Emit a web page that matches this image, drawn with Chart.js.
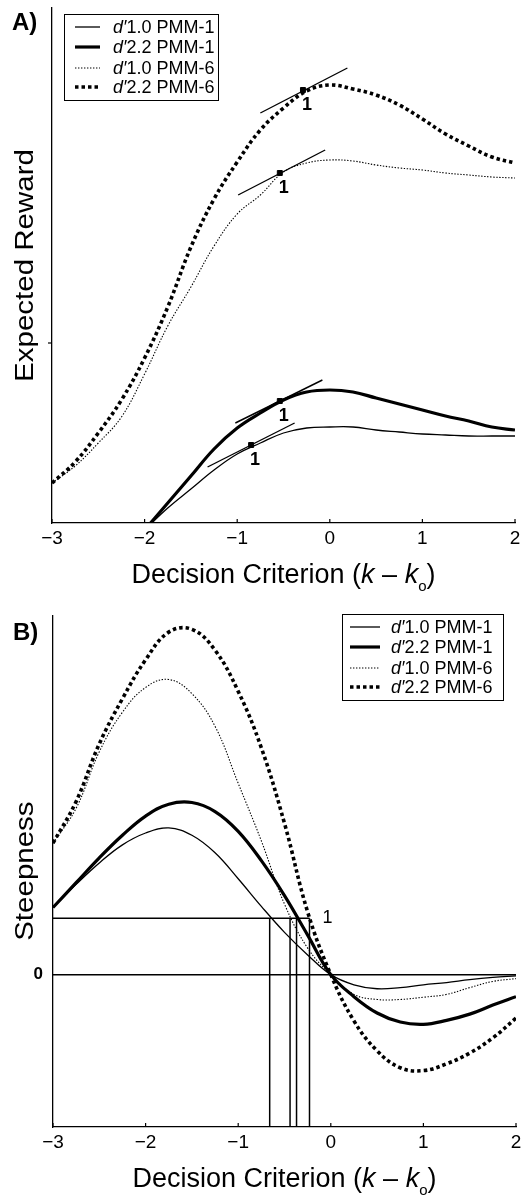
<!DOCTYPE html>
<html>
<head>
<meta charset="utf-8">
<script src="https://cdn.jsdelivr.net/npm/chart.js@4.4.1/dist/chart.umd.min.js"></script>
<style>
  html, body { margin: 0; padding: 0; background: #fff; }
  #wrapA { position: absolute; left: 0; top: 0; width: 529px; height: 595px; }
  #wrapB { position: absolute; left: 0; top: 595px; width: 529px; height: 601px; }
</style>
</head>
<body>
<div id="wrapA"><canvas id="chartA" width="529" height="595"></canvas></div>
<div id="wrapB"><canvas id="chartB" width="529" height="601"></canvas></div>
<script>
// ── shared x grid (decision criterion k - ko) ──
const criterion = [-3, -2.75, -2.5, -2.25, -2, -1.75, -1.5, -1.25, -1, -0.75, -0.5,
                   -0.25, 0, 0.25, 0.5, 0.75, 1, 1.25, 1.5, 1.75, 2];
const criterionTicks = [-3, -2, -1, 0, 1, 2];
const legendLabels = ['1.0 PMM-1', '2.2 PMM-1', '1.0 PMM-6', '2.2 PMM-6'];

// ── Panel A: expected reward (arbitrary units) ──
const rewardD10P1 = [null, null, null, null, -0.07, 0.15, 0.34, 0.53, 0.69, 0.80, 0.90,
                     0.95, 0.96, 0.96, 0.93, 0.91, 0.89, 0.88, 0.87, 0.87, 0.87];
const rewardD22P1 = [null, null, null, null, -0.07, 0.20, 0.47, 0.74, 0.95, 1.10, 1.23,
                     1.31, 1.33, 1.31, 1.25, 1.19, 1.13, 1.07, 1.02, 0.96, 0.93];
const rewardD10P6 = [0.40, 0.57, 0.80, 1.06, 1.49, 1.97, 2.36, 2.77, 3.09, 3.28, 3.51,
                     3.60, 3.63, 3.62, 3.58, 3.55, 3.53, 3.50, 3.48, 3.46, 3.45];
const rewardD22P6 = [0.40, 0.61, 0.90, 1.23, 1.65, 2.16, 2.76, 3.24, 3.61, 3.93, 4.15,
                     4.32, 4.38, 4.34, 4.28, 4.18, 4.04, 3.89, 3.77, 3.66, 3.60];
const rewardRange = [0, 5.15];
const rewardTicks = [1.8];

// slope-1 points and their tangents (same series order as legend)
const optimumX  = [-0.85, -0.54, -0.54, -0.29];
const optimumY  = [0.78, 1.22, 3.50, 4.33];
const tangentX0 = [-1.32, -1.02, -0.99, -0.75];
const tangentY0 = [0.56, 1.00, 3.28, 4.10];
const tangentX1 = [-0.38, -0.08, -0.05, 0.19];
const tangentY1 = [1.00, 1.43, 3.73, 4.55];

// ── Panel B: steepness ──
const steepD10P1 = [1.19, 1.60, 1.98, 2.30, 2.51, 2.60, 2.47, 2.16, 1.70, 1.21, 0.75,
                    0.35, 0, -0.18, -0.25, -0.23, -0.18, -0.14, -0.09, -0.05, -0.02];
const steepD22P1 = [1.19, 1.63, 2.07, 2.47, 2.81, 3.02, 3.05, 2.89, 2.54, 2.02, 1.40,
                    0.70, 0, -0.39, -0.68, -0.84, -0.88, -0.81, -0.70, -0.54, -0.39];
const steepD10P6 = [2.33, 2.95, 3.95, 4.65, 5.09, 5.23, 4.98, 4.40, 3.39, 2.37, 1.25,
                    0.47, 0, -0.35, -0.44, -0.44, -0.40, -0.35, -0.23, -0.12, -0.07];
const steepD22P6 = [2.33, 3.07, 4.09, 4.89, 5.58, 6.07, 6.12, 5.75, 5.02, 4.02, 2.68,
                    1.11, 0, -0.82, -1.35, -1.65, -1.70, -1.58, -1.39, -1.12, -0.77];
const steepRange = [-2.70, 6.37];
const steepLevel = 1;
const crossingX = [-0.66, -0.44, -0.37, -0.23];

// ── styles ──
const FONT = '"Liberation Sans", Arial, Helvetica, sans-serif';
const lineStyles = [
  { width: 1.3, dash: [] },
  { width: 3.2, dash: [] },
  { width: 1.1, dash: [1.4, 1.6] },
  { width: 3.6, dash: [3.5, 3] },
];

const fmtTick = v => (v < 0 ? '\u2212' + Math.abs(v) : String(v));
const pts = (ys) => criterion.map((x, i) => ({ x, y: ys[i] }));

function curve(ys, i) {
  return {
    data: pts(ys), borderColor: '#000', borderWidth: lineStyles[i].width,
    borderDash: lineStyles[i].dash, pointRadius: 0, tension: 0.4,
    spanGaps: false,
  };
}
function segment(x0, y0, x1, y1, w) {
  return {
    data: [{ x: x0, y: y0 }, { x: x1, y: y1 }], borderColor: '#000', borderWidth: w || 1.4,
    pointRadius: 0, tension: 0,
  };
}

function drawInnerTicks(chart) {
  const { ctx, chartArea, scales: { x } } = chart;
  ctx.save();
  ctx.strokeStyle = '#000'; ctx.lineWidth = 1.2;
  criterionTicks.forEach(v => {
    const px = x.getPixelForValue(v);
    ctx.beginPath(); ctx.moveTo(px, chartArea.bottom); ctx.lineTo(px, chartArea.bottom - 4); ctx.stroke();
  });
  ctx.restore();
}

function drawYTitle(chart, text) {
  const { ctx, chartArea } = chart;
  ctx.save();
  ctx.translate(33, (chartArea.top + chartArea.bottom) / 2);
  ctx.rotate(-Math.PI / 2);
  ctx.scale(1.18, 1);
  ctx.font = `25px ${FONT}`; ctx.textAlign = 'center'; ctx.textBaseline = 'alphabetic';
  ctx.fillStyle = '#000';
  ctx.fillText(text, 0, 0);
  ctx.restore();
}

function drawXTitle(chart, baseline) {
  const { ctx, chartArea } = chart;
  const parts = [
    { t: 'Decision Criterion (', f: `27px ${FONT}`, dy: 0 },
    { t: 'k', f: `italic 27px ${FONT}`, dy: 0 },
    { t: ' \u2013 ', f: `27px ${FONT}`, dy: 0 },
    { t: 'k', f: `italic 27px ${FONT}`, dy: 0 },
    { t: 'o', f: `15px ${FONT}`, dy: 8 },
    { t: ')', f: `27px ${FONT}`, dy: 0 },
  ];
  ctx.save();
  ctx.fillStyle = '#000'; ctx.textBaseline = 'alphabetic'; ctx.textAlign = 'left';
  let total = 0;
  parts.forEach(p => { ctx.font = p.f; p.w = ctx.measureText(p.t).width; total += p.w; });
  let x = (chartArea.left + chartArea.right) / 2 - total / 2;
  parts.forEach(p => { ctx.font = p.f; ctx.fillText(p.t, x, baseline + p.dy); x += p.w; });
  ctx.restore();
}

function drawPanelLabel(ctx, text, x, y) {
  ctx.save();
  ctx.font = `bold 24px ${FONT}`; ctx.fillStyle = '#000'; ctx.textBaseline = 'alphabetic';
  ctx.fillText(text, x, y);
  ctx.restore();
}

function drawLegend(ctx, box, rowsY, sx0, sx1, tx) {
  ctx.save();
  ctx.fillStyle = '#fff';
  ctx.fillRect(box.x, box.y, box.w, box.h);
  ctx.strokeStyle = '#000'; ctx.lineWidth = 1;
  ctx.strokeRect(box.x + 0.5, box.y + 0.5, box.w, box.h);
  legendLabels.forEach((lab, i) => {
    const y = rowsY[i];
    ctx.lineWidth = lineStyles[i].width; ctx.setLineDash(lineStyles[i].dash);
    ctx.beginPath(); ctx.moveTo(sx0, y); ctx.lineTo(sx1, y); ctx.stroke();
    ctx.setLineDash([]);
    ctx.fillStyle = '#000'; ctx.textBaseline = 'alphabetic';
    ctx.font = `italic 18px ${FONT}`;
    ctx.fillText('d\u2032', tx, y + 6);
    const w = ctx.measureText('d\u2032').width;
    ctx.font = `18px ${FONT}`;
    ctx.fillText(lab, tx + w, y + 6);
  });
  ctx.restore();
}

function axesConfig(range, yWidth, xHeight) {
  return {
    x: {
      type: 'linear', min: -3, max: 2,
      afterBuildTicks: s => { s.ticks = criterionTicks.map(v => ({ value: v })); },
      ticks: { font: { family: FONT, size: 19 }, color: '#000', padding: 4,
               maxRotation: 0, autoSkip: false, callback: v => fmtTick(v) },
      grid: { display: false, drawTicks: false },
      border: { display: true, color: '#000', width: 1.3 },
      afterFit: s => { s.height = xHeight; },
    },
    y: {
      type: 'linear', min: range[0], max: range[1],
      grid: { display: false, drawTicks: false },
      border: { display: true, color: '#000', width: 1.3 },
      afterFit: s => { s.width = yWidth; },
    },
  };
}

// ── Panel A ──
const datasetsA = [
  curve(rewardD10P1, 0), curve(rewardD22P1, 1), curve(rewardD10P6, 2), curve(rewardD22P6, 3),
  ...optimumX.map((_, i) => segment(tangentX0[i], tangentY0[i], tangentX1[i], tangentY1[i], 1.4)),
  {
    data: optimumX.map((x, i) => ({ x, y: optimumY[i] })), showLine: false,
    pointStyle: 'rect', pointRadius: 3.5, pointBackgroundColor: '#000', pointBorderColor: '#000',
  },
];

const scalesA = axesConfig(rewardRange, 52, 72);
scalesA.y.afterBuildTicks = s => { s.ticks = []; };
scalesA.y.ticks = { display: false };

const decorA = {
  id: 'decorA',
  afterDraw(chart) {
    const { ctx, scales: { x, y } } = chart;
    drawInnerTicks(chart);
    ctx.save();
    ctx.strokeStyle = '#000'; ctx.lineWidth = 1.2;
    rewardTicks.forEach(v => {
      const py = y.getPixelForValue(v);
      ctx.beginPath(); ctx.moveTo(chart.chartArea.left, py); ctx.lineTo(chart.chartArea.left - 4, py); ctx.stroke();
    });
    ctx.font = `bold 18px ${FONT}`; ctx.fillStyle = '#000'; ctx.textAlign = 'center';
    optimumX.forEach((ox, i) => {
      ctx.fillText('1', x.getPixelForValue(ox) + 4, y.getPixelForValue(optimumY[i]) + 20);
    });
    ctx.restore();
    drawYTitle(chart, 'Expected Reward');
    drawXTitle(chart, 583);
    drawPanelLabel(ctx, 'A)', 12, 30);
    drawLegend(ctx, { x: 64, y: 14, w: 154, h: 86 }, [27, 47, 68, 87], 75, 100, 113);
  },
};

new Chart(document.getElementById('chartA'), {
  type: 'line',
  data: { datasets: datasetsA },
  options: {
    responsive: false, animation: false, devicePixelRatio: 1,
    layout: { padding: { top: 8, right: 14, left: 0, bottom: 0 } },
    plugins: { legend: { display: false }, tooltip: { enabled: false } },
    scales: scalesA,
  },
  plugins: [decorA],
});

// ── Panel B ──
const lastCross = Math.max(...crossingX);
const datasetsB = [
  curve(steepD10P1, 0), curve(steepD22P1, 1), curve(steepD10P6, 2), curve(steepD22P6, 3),
  segment(-3, 0, 2, 0, 1.5),
  segment(-3, steepLevel, lastCross, steepLevel, 1.5),
  ...crossingX.map(cx => segment(cx, steepLevel, cx, steepRange[0], 1.5)),
];

const scalesB = axesConfig(steepRange, 53, 69);
scalesB.y.afterBuildTicks = s => { s.ticks = [{ value: 0 }]; };
scalesB.y.ticks = { font: { family: FONT, size: 17, weight: 'bold' }, color: '#000', padding: 10,
                    callback: v => fmtTick(v) };

const decorB = {
  id: 'decorB',
  afterDraw(chart) {
    const { ctx, scales: { x, y } } = chart;
    drawInnerTicks(chart);
    ctx.save();
    ctx.font = `18px ${FONT}`; ctx.fillStyle = '#000'; ctx.textAlign = 'center'; ctx.textBaseline = 'middle';
    ctx.fillText('1', x.getPixelForValue(lastCross) + 18, y.getPixelForValue(steepLevel));
    ctx.restore();
    drawYTitle(chart, 'Steepness');
    drawXTitle(chart, 592);
    drawPanelLabel(ctx, 'B)', 13, 45);
    drawLegend(ctx, { x: 342, y: 19, w: 161, h: 86 }, [32, 52, 73, 92], 350, 380, 391);
  },
};

new Chart(document.getElementById('chartB'), {
  type: 'line',
  data: { datasets: datasetsB },
  options: {
    responsive: false, animation: false, devicePixelRatio: 1,
    layout: { padding: { top: 15, right: 13, left: 0, bottom: 0 } },
    plugins: { legend: { display: false }, tooltip: { enabled: false } },
    scales: scalesB,
  },
  plugins: [decorB],
});
</script>
</body>
</html>
